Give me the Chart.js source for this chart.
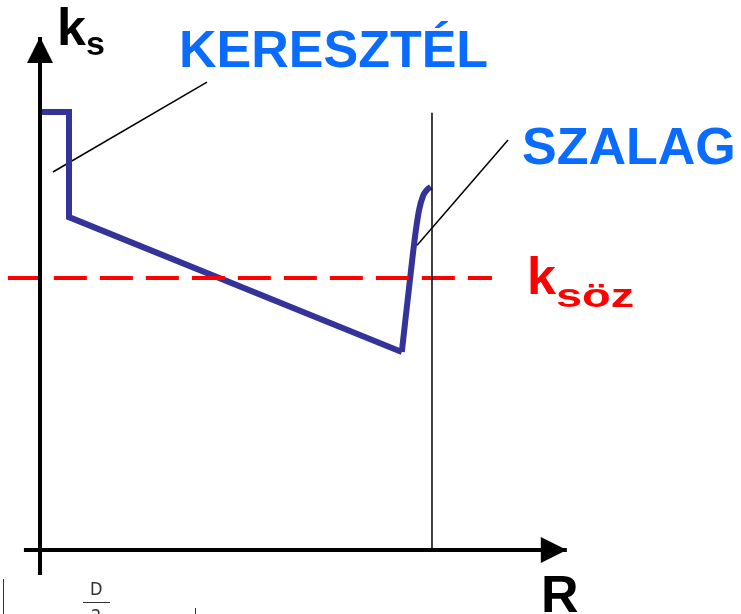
<!DOCTYPE html>
<html>
<head>
<meta charset="utf-8">
<script src="https://cdn.jsdelivr.net/npm/chart.js@4/dist/chart.umd.min.js"></script>
<style>
  body { margin:0; background:#fff; }
  #wrap { width:741px; height:614px; position:relative; }
</style>
</head>
<body>
<div id="wrap"><canvas id="myChart"></canvas></div>
<script>
// data units: R along x (vertical marker at R=10), k along y
// egyenes szakaszok (lepcso + lejto)
const lepcsoR = [0, 0.74, 0.74, 9.23]
const lepcsoK = [10, 10, 7.6, 4.52]
// szalag feletti felfutas
const felfutR = [9.23, 9.51, 9.59, 9.67, 9.77, 9.87, 9.97]
const felfutK = [4.52, 6.74, 7.31, 7.76, 8.08, 8.22, 8.29]

const kozepK = 6.21            // k_köz szint
const kozepR = [-0.82, 11.53]  // szaggatott vonal eleje, vege

const jelolR = 10              // fuggoleges vonal
const jelolK = [0, 9.98]

const tengelyR = [-0.41, 13.44] // vizszintes tengely
const tengelyK = [-0.57, 11.71] // fuggoleges tengely

const mutato1R = [0.33, 4.26], mutato1K = [8.63, 10.68]   // KERESZTÉL
const mutato2R = [9.62, 11.94], mutato2K = [6.96, 9.36]   // SZALAG

function pontok(xs, ys){
  return xs.map((x,i)=>({x:x, y:ys[i]}))
}

const szoveg = {
  id:'szoveg',
  afterDatasetsDraw(chart){
    const c = chart.ctx
    const sx = chart.scales.x, sy = chart.scales.y
    const px = v => sx.getPixelForValue(v)
    const py = v => sy.getPixelForValue(v)

    // nyilhegyek
    c.save()
    c.fillStyle = '#000'
    let tx = px(tengelyR[1]), ty = py(0)
    c.beginPath(); c.moveTo(tx,ty); c.lineTo(tx-26,ty-13); c.lineTo(tx-26,ty+13); c.closePath(); c.fill()
    tx = px(0); ty = py(tengelyK[1])
    c.beginPath(); c.moveTo(tx,ty); c.lineTo(tx-13,ty+26); c.lineTo(tx+13,ty+26); c.closePath(); c.fill()

    c.textBaseline = 'alphabetic'
    c.textAlign = 'left'
    c.fillStyle = '#000'
    c.font = 'bold 52px "Liberation Sans", Arial, sans-serif'
    c.fillText('k', 57, 45)
    c.fillText('R', 541, 612)
    c.font = 'bold 34px "Liberation Sans", Arial, sans-serif'
    c.fillText('s', 86, 55)

    c.fillStyle = '#0a6cff'
    c.font = 'bold 52px "Liberation Sans", Arial, sans-serif'
    c.fillText('KERESZTÉL', 179, 67)
    c.fillText('SZALAG', 522, 164)

    c.fillStyle = '#ff0000'
    c.fillText('k', 527, 294)
    c.save()
    c.translate(556, 307)
    c.scale(1.38, 1)
    c.font = 'bold 34px "Liberation Sans", Arial, sans-serif'
    c.fillText('söz', 0, 0)
    c.restore()

    // also toredekek
    c.fillStyle = '#333'
    c.strokeStyle = '#333'
    c.lineWidth = 1
    c.font = '18px "DejaVu Sans Condensed", "DejaVu Sans", sans-serif'
    c.fillText('D', 90, 595)
    c.fillText('2', 91, 622)
    c.beginPath()
    c.moveTo(83,602.5); c.lineTo(110,602.5)
    c.moveTo(3.5,579); c.lineTo(3.5,614)
    c.moveTo(195.5,608); c.lineTo(195.5,614)
    c.stroke()
    c.restore()
  }
}

new Chart(document.getElementById('myChart'),{
  type:'scatter',
  data:{
    datasets:[
      { data: pontok(tengelyR,[0,0]), showLine:true, borderColor:'#000', borderWidth:4, pointRadius:0 },
      { data: pontok([0,0],tengelyK), showLine:true, borderColor:'#000', borderWidth:4, pointRadius:0 },
      { data: pontok([jelolR,jelolR],jelolK), showLine:true, borderColor:'#000', borderWidth:1.5, pointRadius:0 },
      { data: pontok(kozepR,[kozepK,kozepK]), showLine:true, borderColor:'#ff0000', borderWidth:4,
        borderDash:[33,13], pointRadius:0 },
      { data: pontok(lepcsoR,lepcsoK), showLine:true, borderColor:'#333399', borderWidth:6,
        pointRadius:0, tension:0, borderJoinStyle:'miter' },
      { data: pontok(felfutR,felfutK), showLine:true, borderColor:'#333399', borderWidth:6,
        pointRadius:0, cubicInterpolationMode:'monotone', borderJoinStyle:'miter' },
      { data: pontok(mutato1R,mutato1K), showLine:true, borderColor:'#000', borderWidth:1.5, pointRadius:0 },
      { data: pontok(mutato2R,mutato2K), showLine:true, borderColor:'#000', borderWidth:1.5, pointRadius:0 }
    ]
  },
  options:{
    responsive:true,
    maintainAspectRatio:false,
    animation:false,
    layout:{ padding:0 },
    plugins:{ legend:{display:false}, tooltip:{enabled:false} },
    scales:{
      x:{ type:'linear', display:false, min:-1.0204, max:17.883 },
      y:{ type:'linear', display:false, min:-1.461, max:12.557 }
    }
  },
  plugins:[szoveg]
})
</script>
</body>
</html>
